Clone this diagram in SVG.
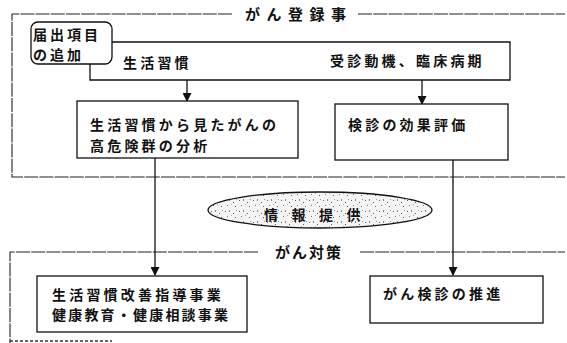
<svg xmlns="http://www.w3.org/2000/svg" width="567" height="343" viewBox="0 0 567 343">
<style>
.frame{fill:none;stroke:#222;stroke-width:1.1;stroke-dasharray:14 1.2}
.box{fill:#fff;stroke:#111;stroke-width:1.3}
.t{font-family:"Noto Sans CJK JP","Noto Sans CJK SC",sans-serif;font-size:14px;font-weight:bold;fill:#111;letter-spacing:3.2px}
.ttl{font-family:"Noto Sans CJK JP",sans-serif;font-size:15px;font-weight:bold;fill:#111}
.ln{fill:none;stroke:#111;stroke-width:1.3}
</style>
<defs>
<marker id="ah" markerWidth="9" markerHeight="9" refX="8" refY="4.5" orient="auto" markerUnits="userSpaceOnUse">
<path d="M0,0 L9,4.5 L0,9 z" fill="#111"/>
</marker>
<pattern id="speck" width="14" height="11" patternUnits="userSpaceOnUse">
<rect width="14" height="11" fill="#f4f4f4"/>
<rect x="1" y="2" width="1" height="1" fill="#666"/>
<rect x="5" y="1" width="1" height="2" fill="#888"/>
<rect x="9" y="4" width="1" height="1" fill="#555"/>
<rect x="3" y="7" width="1" height="1" fill="#777"/>
<rect x="11" y="8" width="1" height="1" fill="#666"/>
<rect x="12" y="1" width="1" height="1" fill="#999"/>
<rect x="7" y="6" width="1" height="1" fill="#aaa"/>
</pattern>
</defs>

<g id="frame-registry">
<path class="frame" d="M232,14 H12 V177 H565"/>
<path class="frame" d="M358,14 H565"/>
<text class="ttl" x="245" y="20" style="letter-spacing:6.5px">がん登録事</text>
</g>

<g id="frame-measures">
<path class="frame" d="M258,252 H10 V343"/>
<path class="frame" d="M360,252 H565"/>
<path d="M10,341 H112" stroke="#333" stroke-width="1.5" stroke-dasharray="3 2" fill="none"/>
<text class="ttl" x="275" y="258" style="letter-spacing:2px">がん対策</text>
</g>

<g id="connectors">
<line class="ln" x1="187" y1="80" x2="187" y2="101" marker-end="url(#ah)"/>
<line class="ln" x1="422" y1="80" x2="422" y2="104" marker-end="url(#ah)"/>
<line class="ln" x1="155" y1="158" x2="155" y2="275" marker-end="url(#ah)"/>
<line class="ln" x1="453" y1="160" x2="453" y2="275" marker-end="url(#ah)"/>
</g>

<g id="items">
<path class="ln" d="M112,42 H510 V80 H90 V64"/>
<text class="t" x="123" y="68">生活習慣</text>
<text class="t" x="330" y="66">受診動機、臨床病期</text>
</g>

<g id="add-items">
<rect class="box" x="31" y="22" width="81" height="42" rx="7"/>
<text class="t" x="33" y="40" style="letter-spacing:3px">届出項目</text>
<text class="t" x="33" y="60" style="letter-spacing:3px">の追加</text>
</g>

<g id="analysis">
<rect class="box" x="77" y="101" width="221" height="57"/>
<text class="t" x="90" y="130">生活習慣から見たがんの</text>
<text class="t" x="90" y="151">高危険群の分析</text>
</g>

<g id="evaluation">
<rect class="box" x="335" y="104" width="173" height="56"/>
<text class="t" x="348" y="130">検診の効果評価</text>
</g>

<g id="info">
<ellipse cx="320" cy="210" rx="112" ry="18" fill="url(#speck)" stroke="#111" stroke-width="1.3"/>
<text class="t" x="264" y="220" style="letter-spacing:13.5px">情報提供</text>
</g>

<g id="lifestyle">
<rect class="box" x="37" y="276" width="210" height="56"/>
<text class="t" x="52" y="300">生活習慣改善指導事業</text>
<text class="t" x="52" y="320" style="letter-spacing:2.2px">健康教育・健康相談事業</text>
</g>

<g id="screening">
<rect class="box" x="370" y="276" width="173" height="47"/>
<text class="t" x="383" y="299">がん検診の推進</text>
</g>
</svg>
